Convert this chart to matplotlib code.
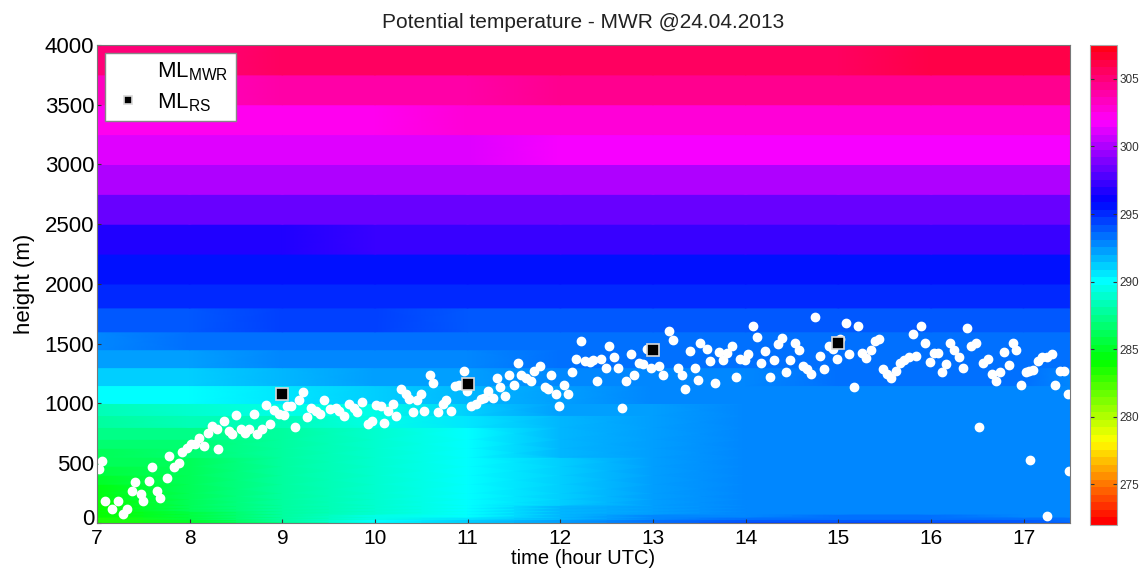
import numpy as np
import matplotlib
matplotlib.use('Agg')
import matplotlib.pyplot as plt
from matplotlib.transforms import ScaledTranslation

plt.rcParams['font.family'] = ['Liberation Sans', 'DejaVu Sans']
plt.rcParams['mathtext.default'] = 'regular'

# ======== DATA ========
# MWR retrieval layers (m): lower edge of every layer, plus the top of the plot
levels = [0, 10, 30, 50, 75, 100, 125, 150, 200, 250, 325, 400, 475, 550,
          625, 700, 800, 900, 1000, 1150, 1300, 1450, 1600, 1800, 2000,
          2250, 2500, 2750, 3000, 3250, 3500, 3750, 4000]

profile_hours = [7, 8, 9, 10, 11, 12, 13, 14, 15, 16, 17, 17.5]

# potential temperature (K): one row per layer, one column per profile hour
theta = [
    [283.4, 285.0, 287.5, 290.0, 291.2, 292.5, 293.6, 294.2, 294.4, 294.3, 294.0, 293.8],  # 0
    [283.5, 285.2, 287.6, 289.8, 291.0, 292.2, 293.3, 293.8, 294.0, 293.9, 293.7, 293.5],  # 10
    [283.6, 285.5, 287.6, 289.6, 290.6, 291.8, 292.9, 293.3, 293.5, 293.4, 293.2, 293.1],  # 30
    [283.7, 285.7, 287.6, 289.3, 290.3, 291.6, 292.6, 293.0, 293.1, 293.1, 293.0, 292.9],  # 50
    [283.8, 285.8, 287.6, 289.0, 290.0, 291.5, 292.4, 292.7, 292.9, 293.0, 292.9, 292.8],  # 75
    [283.9, 285.9, 287.6, 288.9, 290.0, 291.5, 292.3, 292.6, 292.9, 293.0, 292.9, 292.8],  # 100
    [284.0, 285.9, 287.6, 288.8, 289.9, 291.5, 292.3, 292.6, 292.9, 293.0, 292.9, 292.8],  # 125
    [284.1, 285.9, 287.6, 288.8, 289.9, 291.4, 292.3, 292.6, 292.9, 293.0, 292.9, 292.8],  # 150
    [284.4, 286.0, 287.6, 288.7, 289.9, 291.4, 292.3, 292.6, 292.9, 293.0, 292.9, 292.8],  # 200
    [284.7, 286.0, 287.6, 288.7, 289.9, 291.4, 292.3, 292.6, 292.9, 293.0, 292.9, 292.8],  # 250
    [285.1, 286.1, 287.6, 288.7, 289.9, 291.4, 292.3, 292.6, 292.9, 293.0, 292.9, 292.8],  # 325
    [285.5, 286.2, 287.7, 288.7, 289.9, 291.4, 292.3, 292.6, 292.9, 293.0, 292.9, 292.8],  # 400
    [285.9, 286.3, 287.7, 288.8, 289.9, 291.4, 292.3, 292.6, 292.9, 293.0, 292.9, 292.8],  # 475
    [286.2, 286.5, 287.8, 288.8, 290.0, 291.5, 292.3, 292.6, 292.9, 293.0, 292.9, 292.8],  # 550
    [286.6, 286.9, 287.9, 288.9, 290.0, 291.5, 292.3, 292.6, 292.9, 293.0, 292.9, 292.8],  # 625
    [287.0, 287.4, 288.0, 289.0, 290.1, 291.6, 292.4, 292.7, 292.9, 293.0, 292.9, 292.8],  # 700
    [287.6, 288.2, 288.6, 289.3, 290.5, 291.8, 292.5, 292.7, 292.9, 293.0, 292.9, 292.8],  # 800
    [288.4, 288.9, 289.2, 289.7, 290.9, 292.0, 292.5, 292.7, 292.9, 293.0, 292.9, 292.8],  # 900
    [289.8, 290.3, 290.7, 291.0, 291.6, 292.3, 292.6, 292.8, 293.0, 293.0, 293.0, 292.9],  # 1000
    [291.0, 291.4, 291.9, 292.2, 292.4, 292.7, 292.9, 293.0, 293.1, 293.1, 293.1, 293.0],  # 1150
    [292.1, 292.4, 292.6, 292.8, 293.0, 293.2, 293.3, 293.3, 293.3, 293.3, 293.3, 293.3],  # 1300
    [292.8, 293.2, 293.3, 293.4, 293.4, 293.5, 293.6, 293.6, 293.6, 293.6, 293.6, 293.6],  # 1450
    [293.9, 294.1, 294.2, 294.2, 294.1, 294.0, 294.0, 294.1, 294.1, 294.1, 294.1, 294.1],  # 1600
    [294.9, 295.0, 295.1, 295.1, 295.1, 295.2, 295.2, 295.2, 295.2, 295.2, 295.2, 295.2],  # 1800
    [295.3, 295.4, 295.5, 295.5, 295.6, 295.6, 295.7, 295.7, 295.7, 295.7, 295.7, 295.7],  # 2000
    [296.7, 296.8, 296.9, 297.0, 297.0, 297.1, 297.1, 297.1, 297.1, 297.1, 297.1, 297.1],  # 2250
    [298.3, 298.4, 298.4, 298.4, 298.4, 298.4, 298.4, 298.4, 298.4, 298.4, 298.4, 298.4],  # 2500
    [299.8, 299.9, 299.9, 300.0, 300.0, 300.1, 300.1, 300.1, 300.1, 300.1, 300.1, 300.1],  # 2750
    [300.9, 301.0, 301.1, 301.2, 301.3, 301.4, 301.4, 301.5, 301.5, 301.5, 301.5, 301.5],  # 3000
    [302.1, 302.2, 302.3, 302.5, 302.6, 302.7, 302.8, 302.8, 302.8, 302.9, 302.9, 302.9],  # 3250
    [303.4, 303.6, 303.8, 304.0, 304.1, 304.2, 304.2, 304.3, 304.3, 304.3, 304.3, 304.3],  # 3500
    [305.0, 305.1, 305.3, 305.5, 305.6, 305.7, 305.8, 305.8, 305.8, 305.9, 305.9, 305.9],  # 3750
]

# mixed layer height from the MWR (white dots)
ml_mwr_time = [
    7.05, 7.02, 7.09, 7.16, 7.23, 7.28, 7.32, 7.38, 7.41, 7.47, 7.50, 7.56, 7.59, 7.65, 7.68,
    7.75, 7.78, 7.83, 7.88, 7.92, 7.97, 8.01, 8.06, 8.10, 8.15, 8.20, 8.24, 8.30, 8.31, 8.37,
    8.42, 8.46, 8.50, 8.55, 8.60, 8.64, 8.69, 8.73, 8.78, 8.82, 8.87, 8.91, 8.96, 9.02, 9.05,
    9.09, 9.14, 9.18, 9.22, 9.27, 9.31, 9.36, 9.41, 9.45, 9.51, 9.58, 9.61, 9.67, 9.72, 9.77,
    9.81, 9.86, 9.92, 9.97, 10.01, 10.06, 10.10, 10.14,
    10.19, 10.23, 10.28, 10.33, 10.37, 10.41, 10.45, 10.50, 10.53, 10.59, 10.63, 10.68, 10.73,
    10.77, 10.82, 10.86, 10.91, 10.96, 10.99, 11.04, 11.09, 11.14, 11.18, 11.22, 11.27, 11.32,
    11.35, 11.40, 11.45, 11.50, 11.54, 11.58, 11.63, 11.68, 11.72, 11.78, 11.83, 11.87, 11.90,
    11.95, 11.99, 12.04, 12.08, 12.13, 12.17, 12.22, 12.27, 12.32, 12.35, 12.40, 12.44, 12.49,
    12.53, 12.58, 12.62, 12.67, 12.71, 12.76, 12.80, 12.85, 12.89, 12.93, 12.98, 13.06, 13.11,
    13.17, 13.22, 13.27, 13.31, 13.35, 13.40, 13.45, 13.49, 13.51,
    13.58, 13.62, 13.67, 13.71, 13.76, 13.80, 13.85, 13.90, 13.94, 13.99, 14.03, 14.08, 14.12,
    14.17, 14.21, 14.26, 14.30, 14.35, 14.39, 14.44, 14.48, 14.53, 14.57, 14.62, 14.66, 14.71,
    14.75, 14.80, 14.85, 14.90, 14.94, 14.99, 15.02, 15.08, 15.12, 15.17, 15.21, 15.26, 15.30,
    15.35, 15.39, 15.44, 15.48, 15.53, 15.57, 15.62, 15.66, 15.71, 15.76, 15.80, 15.84, 15.89,
    15.94, 15.99, 16.03, 16.07, 16.12, 16.16, 16.20, 16.25, 16.30, 16.34, 16.39, 16.43, 16.48,
    16.52, 16.56, 16.61, 16.66, 16.70, 16.74, 16.79, 16.84, 16.88, 16.92, 16.97, 17.02, 17.06,
    17.10, 17.15, 17.20, 17.25, 17.30, 17.34, 17.39, 17.43, 17.48, 17.07, 17.49, 17.25,
]
ml_mwr_height = [
    515, 450, 185, 115, 185, 75, 115, 270, 340, 240, 185, 350, 465, 270, 210,
    375, 560, 470, 505, 590, 630, 665, 660, 715, 645, 755, 815, 785, 620, 850,
    770, 745, 905, 785, 750, 785, 910, 745, 785, 990, 830, 945, 915, 905, 980,
    975, 800, 1025, 1095, 890, 965, 940, 910, 1030, 950, 965, 940, 895, 995, 965,
    925, 1015, 830, 850, 990, 980, 840, 940,
    995, 895, 1120, 1080, 1035, 925, 1025, 1080, 940, 1235, 1175, 925, 995,
    1030, 940, 1150, 1155, 1270, 1105, 980, 995, 1035, 1045, 1105, 1050, 1210,
    1135, 1065, 1235, 1155, 1335, 1235, 1215, 1185, 1270, 1315, 1140, 1120, 1235,
    1080, 980, 1155, 1080, 1260, 1375, 1520, 1355, 1350, 1365, 1185, 1375, 1295,
    1485, 1385, 1295, 965, 1185, 1415, 1235, 1335, 1330, 1455, 1300, 1315, 1235,
    1605, 1530, 1295, 1235, 1120, 1440, 1295, 1195, 1510,
    1455, 1355, 1170, 1430, 1360, 1420, 1485, 1220, 1375, 1360, 1415, 1645, 1560,
    1335, 1440, 1220, 1360, 1495, 1550, 1260, 1365, 1505, 1450, 1315, 1290, 1245,
    1720, 1400, 1290, 1485, 1455, 1375, 1540, 1670, 1410, 1140, 1645, 1420, 1380,
    1450, 1525, 1540, 1290, 1245, 1215, 1270, 1335, 1360, 1385, 1580, 1400, 1650,
    1505, 1345, 1420, 1420, 1260, 1330, 1505, 1450, 1385, 1295, 1635, 1485, 1510,
    800, 1335, 1375, 1250, 1185, 1260, 1435, 1325, 1505, 1450, 1155, 1260, 1275,
    1280, 1355, 1385, 1390, 1415, 1155, 1270, 1275, 1080, 525, 435, 55,
]

# mixed layer height from the radiosondes (black squares)
ml_rs_time = [9, 11, 13, 15]
ml_rs_height = [1080, 1160, 1450, 1510]

# ======== FIGURE ========
cmap = plt.get_cmap('hsv', 64)
theta_min, theta_max = 272.0, 307.5

fig = plt.figure(figsize=(11.48, 5.71), dpi=100)
ax = fig.add_axes([0.0845, 0.0841, 0.8476, 0.8371])

# each retrieval layer is a flat band, shaded smoothly in time
for i in range(len(levels) - 1):
    row = np.array(theta[i])
    mesh = ax.pcolormesh(profile_hours, [levels[i], levels[i + 1]],
                         np.vstack([row, row]), shading='gouraud',
                         cmap=cmap, vmin=theta_min, vmax=theta_max,
                         antialiased=True)

ax.plot(ml_mwr_time, ml_mwr_height, 'o', ms=6, mfc='white', mec='white',
        label=r'ML$_{MWR}$')
ax.plot(ml_rs_time, ml_rs_height, 's', ms=8.5, mfc='black', mec='#d8d8d8',
        mew=1.2, label=r'ML$_{RS}$')

ax.set_xlim(7, 17.5)
ax.set_ylim(0, 4000)
ax.set_xticks(range(7, 18))
ax.set_yticks(range(0, 4001, 500))
ax.tick_params(direction='in', length=3, labelsize=16, color='#333333')
ax.tick_params(axis='x', pad=4, labelsize=15)
ax.tick_params(axis='y', pad=2)
for lab in ax.get_yticklabels():
    lab.set_verticalalignment('center_baseline')
# lift the "0" a little so it does not run into the "7" below it
zero = ax.get_yticklabels()[0]
zero.set_transform(zero.get_transform() +
                   ScaledTranslation(0, 4 / 72, fig.dpi_scale_trans))
for s in ax.spines.values():
    s.set_color('#777777')

ax.set_title('Potential temperature - MWR @24.04.2013', fontsize=15, pad=12,
             color='#222222')
ax.set_xlabel('time (hour UTC)', fontsize=14.5, labelpad=1)
ax.set_ylabel('height (m)', fontsize=16, labelpad=7)

leg = ax.legend(loc='upper left', fontsize=16, frameon=True, fancybox=False,
                framealpha=1, edgecolor='#888888', borderaxespad=0.35,
                handlelength=1.4, handletextpad=0.6, labelspacing=0.35,
                markerscale=0.6, borderpad=0.35)
leg.get_frame().set_linewidth(1.0)

# colorbar
cax = fig.add_axes([0.9495, 0.0806, 0.0235, 0.8406])
cb = fig.colorbar(mesh, cax=cax)
cb.set_ticks([275, 280, 285, 290, 295, 300, 305])
cb.ax.tick_params(direction='in', length=3, labelsize=8.5, pad=2,
                  left=True, right=True, colors='#333333')
cb.outline.set_edgecolor('#aaaaaa')

plt.savefig('out.png', dpi=100)
